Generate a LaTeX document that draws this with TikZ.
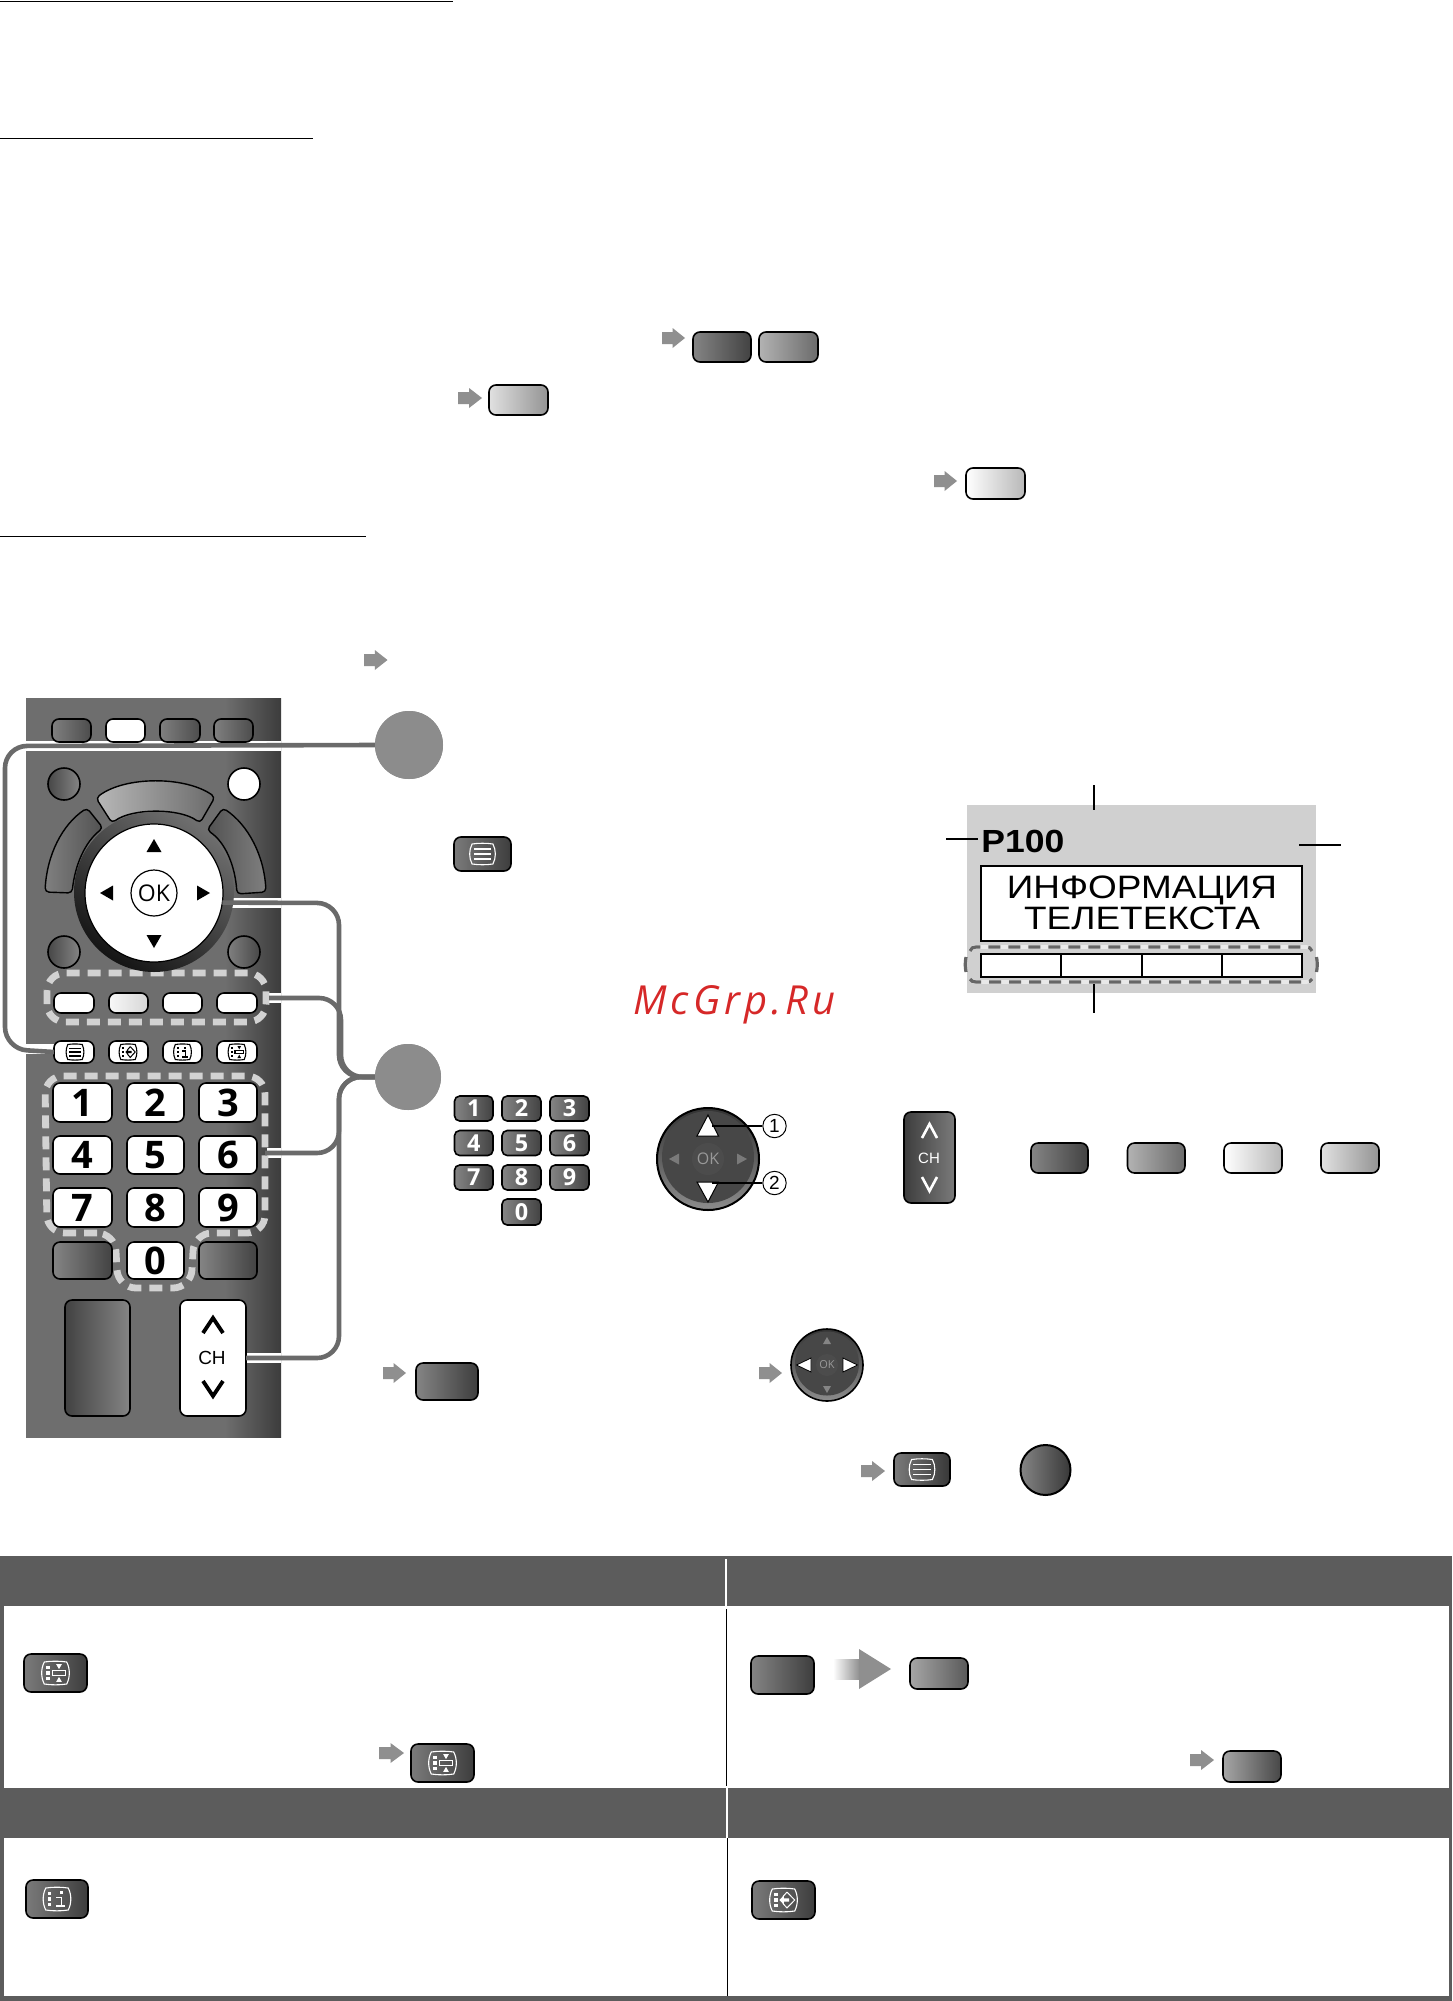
\documentclass[tikz,border=0pt]{standalone}
\usepackage{fontspec}
\usepackage{graphicx}
\setmainfont{Liberation Sans}
\newfontfamily\keyfont{Open Sans}
\newfontfamily\wmfont[LetterSpace=10]{Open Sans}
\definecolor{remote}{HTML}{6E6E6E}
\definecolor{remdark}{HTML}{3C3C3C}
\definecolor{conncol}{HTML}{6A6A6A}
\definecolor{circcol}{HTML}{8C8C8C}
\definecolor{arrcol}{HTML}{8F8F8F}
\definecolor{dashlight}{HTML}{D2D2D2}
\definecolor{dashdark}{HTML}{666666}
\definecolor{dashhalo}{HTML}{E8E8E8}
\definecolor{screen}{HTML}{D0D0D0}
\definecolor{head}{HTML}{5C5C5C}
\definecolor{wmred}{HTML}{D62828}
\pgfdeclarehorizontalshading{remshade}{100bp}{color(0bp)=(remote); color(64bp)=(remote); color(75bp)=(remdark); color(100bp)=(remdark)}
\tikzset{
  x=0.5pt,y=-0.5pt,
  btnbase/.style={draw=black,line width=0.8pt,rounded corners=3.5pt,inner sep=0pt,outer sep=0pt},
  bA/.style={left color=black!48,right color=black!74},
  bB/.style={left color=black!30,right color=black!58},
  bC/.style={left color=white,right color=black!28},
  bD/.style={left color=black!12,right color=black!42},
  bwhite/.style={fill=white},
  blight/.style={left color=black!3,right color=black!16},
  ulabel/.style={line width=0.8pt,black},
  conn/.style={draw=conncol,line width=2.3pt,rounded corners=11pt},
  halo/.style={draw=white,line width=4.6pt},
  dashW/.style={draw=dashlight,line width=3.4pt,dash pattern=on 6.5pt off 4pt,rounded corners=9pt},
  dashBase/.style={draw=dashhalo,line width=1.9pt},
  dashD/.style={draw=dashdark,line width=1.6pt,dash pattern=on 6pt off 4pt},
  numkey/.style={bwhite,text=black,font=\keyfont\bfseries\fontsize{19}{19}\selectfont},
  numdark/.style={bA,rounded corners=2.6pt,text=white,font=\keyfont\bfseries\fontsize{11.7}{11.7}\selectfont},
  tickline/.style={draw=black,line width=1pt},
  circlebtn/.style={circle,draw=black,line width=0.8pt,inner sep=0pt,outer sep=0pt},
}
\newcommand{\Btn}[7]{%
  \pgfmathsetmacro\cxv{(#2+#4)/2}\pgfmathsetmacro\cyv{(#3+#5)/2}%
  \pgfmathsetmacro\wwv{abs(#4-#2)*0.5}\pgfmathsetmacro\hhv{abs(#5-#3)*0.5}%
  \node[btnbase,minimum width=\wwv pt,minimum height=\hhv pt,#6] (#1) at (\cxv,\cyv) {#7};}
\newcommand{\Arr}[5][arrcol]{%
  \pgfmathsetmacro\xm{#2+0.46*(#4-#2)}\pgfmathsetmacro\ya{#3+0.2*(#5-#3)}\pgfmathsetmacro\yb{#3+0.8*(#5-#3)}\pgfmathsetmacro\ym{(#3+#5)/2}%
  \fill[#1] (#2,\ya) -- (\xm,\ya) -- (\xm,#3) -- (#4,\ym) -- (\xm,#5) -- (\xm,\yb) -- (#2,\yb) -- cycle;}
\newcommand{\BarrelPath}{(-.8,-1) .. controls (-.3,-1.1) and (.3,-1.1) .. (.8,-1) .. controls (1.05,-.4) and (1.05,.4) .. (.8,1) .. controls (.3,1.1) and (-.3,1.1) .. (-.8,1) .. controls (-1.05,.4) and (-1.05,-.4) .. (-.8,-1) -- cycle}
\newcommand{\Dots}[1]{\fill[#1] (-.65,-.62) rectangle (-.42,-.34);\fill[#1] (-.65,-.14) rectangle (-.42,.14);\fill[#1] (-.65,.34) rectangle (-.42,.62);}
\newcommand{\IcoMenu}[5]{\begin{scope}[shift={(#1,#2)},xscale=#3/2,yscale=#4/2]
  \draw[#5,line width=.55pt] \BarrelPath;
  \foreach \q in {-.5,0,.5}{\draw[#5,line width=.75pt] (-.66,\q) -- (.66,\q);}
  \end{scope}}
\newcommand{\IcoInfo}[5]{\begin{scope}[shift={(#1,#2)},xscale=#3/2,yscale=#4/2]
  \draw[#5,line width=.55pt] \BarrelPath;\Dots{#5}
  \draw[#5,line width=.7pt] (-.05,-.15) -- (.3,-.15) -- (.3,.65) (-.05,.65) -- (.6,.65);
  \fill[#5] (.18,-.7) rectangle (.42,-.42);
  \end{scope}}
\newcommand{\IcoAspect}[5]{\begin{scope}[shift={(#1,#2)},xscale=#3/2,yscale=#4/2]
  \draw[#5,line width=.55pt] \BarrelPath;\Dots{#5}
  \draw[#5,line width=.55pt] (-.22,-.2) rectangle (.72,.2);
  \fill[#5] (.05,-.8) -- (.45,-.8) -- (.25,-.35) -- cycle;
  \fill[#5] (.05,.8) -- (.45,.8) -- (.25,.35) -- cycle;
  \end{scope}}
\newcommand{\IcoReveal}[5]{\begin{scope}[shift={(#1,#2)},xscale=#3/2,yscale=#4/2]
  \draw[#5,line width=.55pt] \BarrelPath;\Dots{#5}
  \draw[#5,line width=.5pt] (.25,-.72) -- (.8,0) -- (.25,.72) -- (-.05,.3) (-.05,-.3) -- (.25,-.72);
  \fill[#5] (-.3,0) -- (.02,-.4) -- (.02,-.14) -- (.4,-.14) -- (.4,.14) -- (.02,.14) -- (.02,.4) -- cycle;
  \end{scope}}
\begin{document}
\begin{tikzpicture}
\useasboundingbox (0,0) rectangle (1452,2001);
\fill[white] (0,0) rectangle (1452,2001);

% section rules
\draw[ulabel] (0,1.5) -- (453,1.5);
\draw[ulabel] (0,138.5) -- (313,138.5);
\draw[ulabel] (0,536.5) -- (366,536.5);

% top buttons
\Arr{662}{328}{685}{348}
\Btn{topA}{693}{332}{751}{362}{bA}{}
\Btn{topB}{759}{332}{818}{362}{bB}{}
\Arr{458}{388}{482}{408}
\Btn{topC}{489}{385}{548}{415}{bD}{}
\Arr{934}{471}{957}{491}
\Btn{topD}{966}{468}{1025}{499}{bC}{}
\Arr{364}{650}{387.5}{670}

% remote body
\shade[shading=remshade] (26,698) rectangle (281,1437);

% connector halos
\draw[halo] (26,746) -- (281,746);
\draw[halo] (26,1049) -- (54,1049);
\draw[halo] (222,903) -- (281,903);
\draw[halo] (269,998) -- (281,998);
\draw[halo] (267,1153) -- (281,1153);
\draw[halo] (246,1358) -- (281,1358);

% dashed groups on remote
\draw[dashW] (47,973) rectangle (266,1022);
\draw[dashW] (115,1233) -- (47,1233) -- (45,1076) -- (265,1076) -- (265,1233) -- (194,1233) -- (191,1288) -- (118,1288) -- cycle;

% remote keys
\Btn{rt1}{52}{719}{91}{742}{left color=black!50,right color=black!70}{}
\Btn{rt2}{106}{719}{145}{742}{bwhite}{}
\Btn{rt3}{160}{719}{200}{742}{left color=black!50,right color=black!70}{}
\Btn{rt4}{214}{719}{253}{742}{left color=black!50,right color=black!70}{}

\node[circlebtn,minimum size=16pt,left color=black!72,right color=black!48] (rc1) at (64,784) {};
\node[circlebtn,minimum size=16pt,fill=white] (rc2) at (244,784) {};
\node[circlebtn,minimum size=16pt,left color=black!72,right color=black!48] (rc3) at (64,952) {};
\node[circlebtn,minimum size=16pt,left color=black!50,right color=black!72] (rc4) at (244,952) {};

\draw[line width=.7pt,black,left color=black!28,right color=black!58,rounded corners=2pt]
  (96,798) .. controls (125,776) and (185,776) .. (215,797) -- (200,823) .. controls (180,808) and (132,808) .. (112,823) -- cycle;
\draw[line width=.7pt,black,left color=black!50,right color=black!68,rounded corners=2pt]
  (45,892) .. controls (47,855) and (62,825) .. (87,808) -- (103,828) .. controls (85,842) and (75,865) .. (72,893) -- cycle;
\draw[line width=.7pt,black,left color=black!68,right color=black!50,rounded corners=2pt]
  (266,892) .. controls (264,855) and (248,825) .. (223,808) -- (207,830) .. controls (225,842) and (235,865) .. (237,894) -- cycle;

\shade[top color=remote,bottom color=black!92,shading angle=-35] (154,892) circle (80);
\node[circle,fill=white,draw=black,line width=.6pt,minimum size=69pt,inner sep=0pt,outer sep=0pt] (dpad) at (154,893) {};
\node[circle,draw=black,line width=.6pt,minimum size=23pt,inner sep=0pt,font=\keyfont\fontsize{11.5}{11.5}\selectfont] (rok) at (154,893) {OK};
\fill[black] (154,839) -- (161.5,852) -- (146.5,852) -- cycle;
\fill[black] (154,948) -- (161.5,935) -- (146.5,935) -- cycle;
\fill[black] (100,893) -- (113,885.5) -- (113,900.5) -- cycle;
\fill[black] (210,893) -- (197,885.5) -- (197,900.5) -- cycle;

\Btn{rc1b}{54}{993}{94}{1013}{bwhite}{}
\Btn{rc2b}{109}{993}{148}{1013}{blight}{}
\Btn{rc3b}{163}{993}{202}{1013}{bwhite}{}
\Btn{rc4b}{217}{993}{257}{1013}{bwhite}{}

\Btn{rtxt}{54}{1041}{94}{1063}{bwhite}{}
\Btn{rrev}{109}{1041}{148}{1063}{bwhite}{}
\Btn{rinf}{163}{1041}{202}{1063}{bwhite}{}
\Btn{rasp}{217}{1041}{257}{1063}{bwhite}{}
\IcoMenu{75}{1052}{18}{15}{black}
\IcoReveal{128}{1052}{18}{15}{black}
\IcoInfo{182.5}{1052}{18}{15}{black}
\IcoAspect{237}{1052}{18}{15}{black}

\Btn{k1}{53}{1083}{112}{1122}{numkey}{1}
\Btn{k2}{127}{1083}{184}{1122}{numkey}{2}
\Btn{k3}{199}{1083}{257}{1122}{numkey}{3}
\Btn{k4}{53}{1136}{112}{1174}{numkey}{4}
\Btn{k5}{127}{1136}{184}{1174}{numkey}{5}
\Btn{k6}{199}{1136}{257}{1174}{numkey}{6}
\Btn{k7}{53}{1188}{112}{1227}{numkey}{7}
\Btn{k8}{127}{1188}{184}{1227}{numkey}{8}
\Btn{k9}{199}{1188}{257}{1227}{numkey}{9}
\Btn{k0}{127}{1242}{184}{1279}{numkey}{0}
\Btn{kL}{53}{1242}{112}{1279}{left color=black!48,right color=black!74}{}
\Btn{kR}{199}{1242}{257}{1279}{left color=black!48,right color=black!74}{}

\Btn{rvol}{65}{1300}{130}{1416}{left color=black!74,right color=black!48}{}
\Btn{rch}{180}{1300}{246}{1416}{bwhite}{}
\draw[line width=1.9pt,black] (203,1333) -- (213,1318) -- (223,1333);
\draw[line width=1.9pt,black] (203,1381) -- (213,1396) -- (223,1381);
\node[font=\fontsize{9.5}{9.5}\selectfont,inner sep=0pt] (rchl) at (212,1358) {CH};

% connectors
\node[circle,fill=circcol,minimum size=34pt,inner sep=0pt,outer sep=0pt] (s1) at (409,745) {};
\node[circle,fill=circcol,minimum size=33pt,inner sep=0pt,outer sep=0pt] (s2) at (408,1077) {};
\coordinate (a1) at (5,746); \coordinate (a2) at (5,1049);
\draw[conn] (s1.west) -- (a1) -- (a2) -- (rtxt.west);
\coordinate (b1) at (339,903); \coordinate (b2) at (339,1077);
\draw[conn] (dpad.-8) -- (b1) -- (b2) -- (s2.west);
\coordinate (cs) at (269,998); \coordinate (c1) at (341,998); \coordinate (c2) at (341,1077);
\draw[conn] (cs) -- (c1) -- (c2) -- (s2.west);
\coordinate (ds) at (265,1153); \coordinate (d1) at (339,1153); \coordinate (d2) at (339,1077);
\draw[conn] (ds) -- (d1) -- (d2) -- (s2.west);
\coordinate (e1) at (339,1358); \coordinate (e2) at (339,1077);
\draw[conn] (rch.east) -- (e1) -- (e2) -- (s2.west);
\fill[circcol] (s1) circle (34);
\fill[circcol] (s2) circle (33);

% teletext menu button
\Btn{mbtn}{454}{837}{511}{871}{left color=black!52,right color=black!76}{}
\IcoMenu{482.5}{854}{26}{20}{white}

% watermark
\node[anchor=base west,inner sep=0pt,text=wmred,font=\wmfont\itshape\fontsize{20}{20}\selectfont] (wm) at (633,1014) {McGrp.Ru};

% screen
\node[fill=screen,minimum width=174.5pt,minimum height=94pt,inner sep=0pt,outer sep=0pt] (scr) at (1141.5,899) {};
\node[draw=black,line width=.8pt,fill=white,minimum width=160.5pt,minimum height=37.5pt,inner sep=0pt,outer sep=0pt] (info) at (1141.5,903.5) {};
\node[anchor=base,inner sep=0pt,font=\fontsize{16.2}{16.2}\selectfont] (t1) at (1142,898) {\scalebox{1.14}[1]{ИНФОРМАЦИЯ}};
\node[anchor=base,inner sep=0pt,font=\fontsize{16.2}{16.2}\selectfont] (t2) at (1142,929) {\scalebox{1.14}[1]{ТЕЛЕТЕКСТА}};
\node[anchor=base west,inner sep=0pt,font=\bfseries\fontsize{16}{16}\selectfont] (p100) at (981,852.5) {\scalebox{1.11}[1]{P100}};
\node[draw=black,line width=.8pt,fill=white,minimum width=160.5pt,minimum height=11.5pt,inner sep=0pt,outer sep=0pt] (bar) at (1141.5,965.5) {};
\draw[line width=.7pt] (1061,954) -- (1061,977) (1142,954) -- (1142,977) (1222,954) -- (1222,977);
\draw[dashBase] (970,951) .. controls (971,948) and (973,947) .. (976,947) -- (1306,947) .. controls (1309,947) and (1311,948) .. (1312,951);
\draw[dashBase] (970,979) .. controls (971,981) and (973,982) .. (976,982) -- (1306,982) .. controls (1309,982) and (1311,981) .. (1312,979);
\draw[dashD] (970,951) .. controls (971,948) and (973,947) .. (976,947) -- (1306,947) .. controls (1309,947) and (1311,948) .. (1312,951);
\draw[dashD] (970,979) .. controls (971,981) and (973,982) .. (976,982) -- (1306,982) .. controls (1309,982) and (1311,981) .. (1312,979);
\draw[dashdark,line width=1.6pt] (966,957) .. controls (965,962) and (965,967) .. (966,972);
\draw[dashdark,line width=1.6pt] (1316.5,957) .. controls (1317.5,962) and (1317.5,967) .. (1316.5,972);
\draw[tickline] (1094,785) -- (1094,810);
\draw[tickline] (946,839) -- (978,839);
\draw[tickline] (1299,845) -- (1341,845);
\draw[tickline] (1094,984) -- (1094,1013);

% step 2 widgets
\Btn{n1}{454.5}{1096}{493}{1121}{numdark}{1}
\Btn{n2}{502}{1096}{541}{1121}{numdark}{2}
\Btn{n3}{550}{1096}{589}{1121}{numdark}{3}
\Btn{n4}{454.5}{1130.5}{493}{1155.5}{numdark}{4}
\Btn{n5}{502}{1130.5}{541}{1155.5}{numdark}{5}
\Btn{n6}{550}{1130.5}{589}{1155.5}{numdark}{6}
\Btn{n7}{454.5}{1165}{493}{1190}{numdark}{7}
\Btn{n8}{502}{1165}{541}{1190}{numdark}{8}
\Btn{n9}{550}{1165}{589}{1190}{numdark}{9}
\Btn{n0}{502}{1199}{541}{1225}{numdark}{0}

\node[circlebtn,line width=1pt,minimum size=51pt,top color=black!80,bottom color=black!45] (pad) at (708,1159) {};
\fill[black!72] (708,1157) circle (46);
\node[circle,fill=black!70,minimum size=16pt,inner sep=0pt,text=black!40,font=\keyfont\fontsize{8}{8}\selectfont] (padok) at (708,1159) {OK};
\draw[black,line width=.5pt,fill=white] (708,1115) -- (718.5,1136) -- (697,1136) -- cycle;
\draw[black,line width=.5pt,fill=white] (708,1202) -- (718.5,1182) -- (697,1182) -- cycle;
\fill[black!52] (669,1159) -- (679,1153.5) -- (679,1164.5) -- cycle;
\fill[black!52] (747,1159) -- (737,1153.5) -- (737,1164.5) -- cycle;
\node[circle,draw=black,line width=.5pt,fill=white,minimum size=11.7pt,inner sep=0pt,font=\fontsize{9.5}{9.5}\selectfont] (c1n) at (774.5,1126) {1};
\node[circle,draw=black,line width=.5pt,fill=white,minimum size=11.7pt,inner sep=0pt,font=\fontsize{9.5}{9.5}\selectfont] (c2n) at (774.5,1183) {2};
\coordinate (tu) at (712,1126); \coordinate (td) at (712,1183);
\draw[line width=.8pt] (tu) -- (c1n.west);
\draw[line width=.8pt] (td) -- (c2n.west);

\Btn{chd}{904}{1112}{955}{1203}{left color=black!76,right color=black!52}{}
\draw[line width=1.3pt,white] (922,1138) -- (929.5,1124) -- (937,1138);
\draw[line width=1.3pt,white] (922,1177) -- (929.5,1191) -- (937,1177);
\node[font=\fontsize{7.5}{7.5}\selectfont,text=white,inner sep=0pt] (chdl) at (929,1158) {CH};

\Btn{col1}{1031}{1143}{1088}{1173}{bA}{}
\Btn{col2}{1127.5}{1143}{1185}{1173}{bB}{}
\Btn{col3}{1224}{1143}{1282}{1173}{bC}{}
\Btn{col4}{1321}{1143}{1379}{1173}{bD}{}

% row below
\Arr{383}{1363}{406}{1383}
\Btn{tvb}{416}{1363}{478}{1400}{left color=black!48,right color=black!76}{}
\Arr{759}{1363}{782}{1383}
\node[circlebtn,minimum size=36pt,top color=black!80,bottom color=black!45] (pad2) at (827,1365) {};
\fill[black!72] (827,1363.5) circle (32);
\node[circle,fill=black!70,minimum size=11pt,inner sep=0pt,text=black!40,font=\keyfont\fontsize{5.5}{5.5}\selectfont] (pad2ok) at (827,1365) {OK};
\draw[black,line width=.4pt,fill=white] (796.5,1365) -- (811,1358) -- (811,1372) -- cycle;
\draw[black,line width=.4pt,fill=white] (857.5,1365) -- (843,1358) -- (843,1372) -- cycle;
\fill[black!48] (827,1337) -- (831,1344) -- (823,1344) -- cycle;
\fill[black!48] (827,1393) -- (831,1386) -- (823,1386) -- cycle;
\Arr{861}{1461}{885}{1481}
\Btn{mb2}{894}{1453}{950}{1486}{left color=black!52,right color=black!78}{}
\IcoMenu{922}{1469.5}{26}{20}{white}
\node[circlebtn,minimum size=25pt,left color=black!48,right color=black!78,line width=1pt] (round) at (1045.5,1470) {};

% table
\fill[head] (0,1556) rectangle (1452,1606);
\fill[head] (0,1788) rectangle (1452,1838);
\fill[head] (0,1996) rectangle (1452,2001);
\fill[head] (0,1556) rectangle (4,2001);
\fill[head] (1448.5,1556) rectangle (1452,2001);
\draw[white,line width=1pt] (726,1559) -- (726,1606);
\draw[white,line width=1pt] (726.5,1788) -- (726.5,1838);
\draw[black,line width=.4pt] (726,1609) -- (726,1786);
\draw[black,line width=.4pt] (727,1838) -- (727,1996);

\Btn{tb1}{24}{1654}{87}{1692}{left color=black!52,right color=black!76}{}
\IcoAspect{55.5}{1673}{28}{22}{white}
\Arr{379}{1743}{404}{1763}
\Btn{tb2}{411}{1744}{474}{1782}{left color=black!52,right color=black!76}{}
\IcoAspect{442.5}{1763}{28}{22}{white}
\Btn{tb3}{751}{1656}{814}{1694}{left color=black!48,right color=black!76}{}
\shade[left color=white,right color=arrcol] (833,1659) rectangle (859.5,1679);
\fill[arrcol] (859,1649) -- (891,1669) -- (859,1689) -- cycle;
\Btn{tb4}{910}{1658}{968}{1689}{left color=black!35,right color=black!65}{}
\Arr{1190}{1750}{1214}{1770}
\Btn{tb5}{1223}{1751}{1281}{1782}{left color=black!35,right color=black!72}{}
\Btn{tb6}{26}{1880}{88}{1918}{left color=black!52,right color=black!76}{}
\IcoInfo{57}{1899}{28}{22}{white}
\Btn{tb7}{752}{1881}{815}{1919}{left color=black!52,right color=black!76}{}
\IcoReveal{783.5}{1900}{28}{22}{white}
\end{tikzpicture}
\end{document}
